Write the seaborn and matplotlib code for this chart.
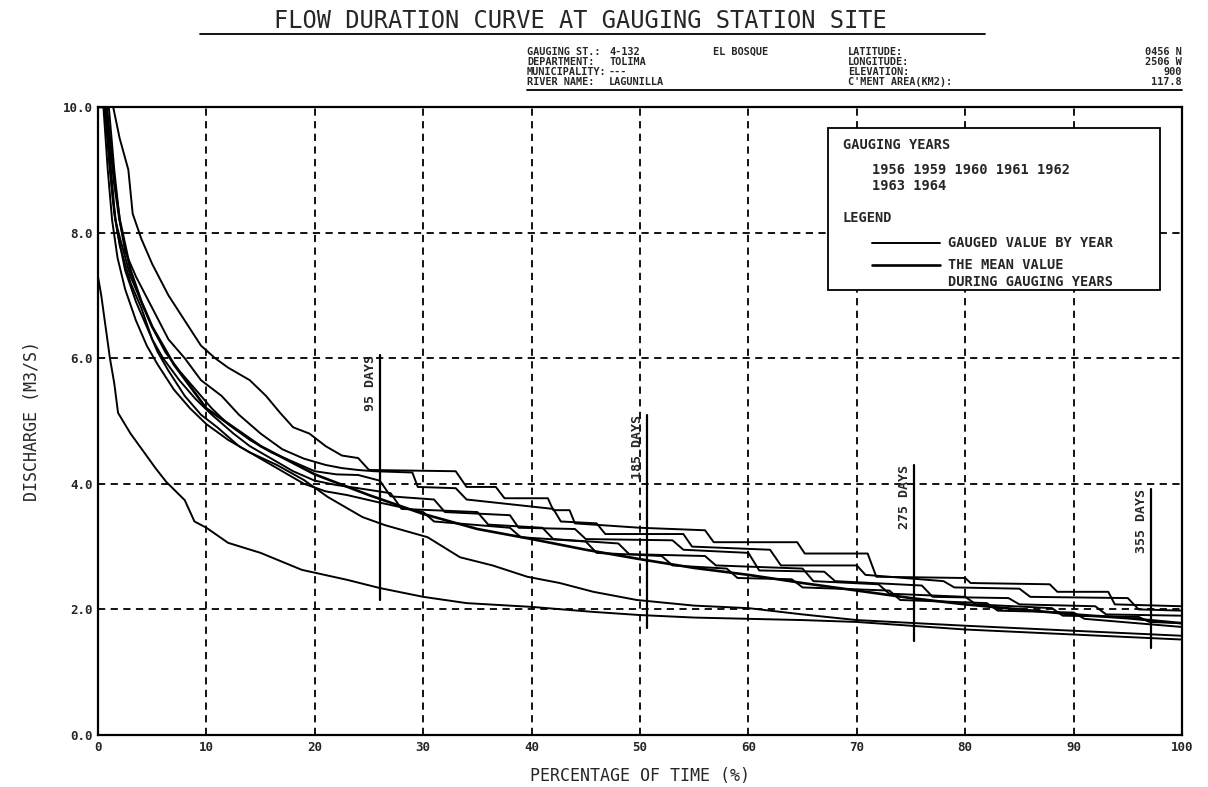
import matplotlib
matplotlib.use("Agg")
import matplotlib.pyplot as plt
import seaborn as sns
from matplotlib.patches import Rectangle

# ---------------- data (percentage of time, discharge m3/s) ----------------
y1_x = [0, 1.4, 2.0, 2.8, 3.2, 4.0, 5.0, 6.5, 8, 9.5, 10.8, 12, 14, 15.5, 16.8, 18, 19.5, 21, 22.5, 24, 25, 33, 34, 36.7, 37.5, 41.5, 42, 43.5, 44, 50, 56, 56.8, 64.5, 65.2, 71, 71.8, 80, 80.5, 87.8, 88.5, 93.2, 93.8, 100]
y1_y = [10, 10, 9.5, 9.0, 8.3, 7.9, 7.5, 7.0, 6.6, 6.2, 6.0, 5.85, 5.65, 5.4, 5.13, 4.9, 4.8, 4.6, 4.45, 4.41, 4.22, 4.2, 3.95, 3.95, 3.77, 3.77, 3.58, 3.58, 3.37, 3.3, 3.26, 3.07, 3.07, 2.89, 2.89, 2.52, 2.5, 2.42, 2.4, 2.28, 2.28, 2.08, 2.05]

y2_x = [0, 1.0, 1.5, 2.0, 2.5, 3.5, 5, 6.5, 8, 9.5, 11.4, 13, 15, 17, 19, 21, 22.5, 24, 25.5, 29, 29.5, 33, 34, 42, 42.7, 46, 46.8, 54, 54.8, 62, 63, 70, 70.8, 78, 79, 85, 86, 95, 96, 100]
y2_y = [10, 10, 9.0, 8.2, 7.7, 7.3, 6.8, 6.3, 6.0, 5.65, 5.4, 5.1, 4.8, 4.55, 4.4, 4.3, 4.25, 4.22, 4.2, 4.18, 3.95, 3.93, 3.75, 3.6, 3.4, 3.37, 3.2, 3.2, 3.0, 2.95, 2.7, 2.7, 2.55, 2.45, 2.35, 2.33, 2.2, 2.18, 2.0, 1.98]

y3_x = [0, 0.8, 1.2, 1.6, 2.2, 3, 4, 5, 6.2, 7.5, 9, 10.5, 12, 14, 16, 18, 20, 22, 24, 26, 27, 31, 32, 38, 38.8, 44, 45, 53, 54, 60, 61, 67, 68, 76, 77, 84, 85, 92, 93, 100]
y3_y = [10, 10, 9.0, 8.2, 7.8, 7.3, 6.9, 6.5, 6.1, 5.8, 5.5, 5.2, 4.95, 4.7, 4.5, 4.35, 4.2, 4.15, 4.14, 4.05, 3.8, 3.75, 3.55, 3.5, 3.3, 3.28, 3.12, 3.1, 2.95, 2.9, 2.62, 2.6, 2.45, 2.38, 2.2, 2.18, 2.08, 2.05, 1.92, 1.9]

y4_x = [0, 0.7, 1.1, 1.5, 2, 3, 4, 5, 6, 7.5, 9, 10.5, 12.5, 14, 16, 18, 20, 22, 24, 27, 28, 35, 36, 41, 42, 48, 49, 56, 57, 65, 66, 72, 73, 80, 81, 88, 89, 96, 97, 100]
y4_y = [10, 10, 9.0, 8.3, 7.8, 7.2, 6.8, 6.3, 6.0, 5.65, 5.35, 5.1, 4.8, 4.6, 4.4, 4.2, 4.05, 3.98, 3.93, 3.85, 3.6, 3.55, 3.35, 3.3, 3.12, 3.05, 2.88, 2.85, 2.7, 2.65, 2.45, 2.4, 2.25, 2.2, 2.08, 2.02, 1.9, 1.88, 1.8, 1.78]

y5_x = [0, 0.6, 1.0, 1.4, 1.8, 2.5, 3.5, 4.5, 5.5, 6.5, 8, 9.5, 11, 13, 15, 17, 19, 21, 23, 26, 30, 31, 38, 39, 45, 46, 52, 53, 58, 59, 64, 65, 73, 74, 82, 83, 90, 91, 100]
y5_y = [10, 10, 9.2, 8.5, 8.0, 7.4, 6.9, 6.5, 6.1, 5.8, 5.4, 5.1, 4.9, 4.6, 4.4, 4.2, 4.0, 3.88, 3.82, 3.7, 3.55, 3.4, 3.3, 3.15, 3.08, 2.9, 2.85, 2.7, 2.65, 2.5, 2.48, 2.35, 2.3, 2.15, 2.1, 1.98, 1.95, 1.85, 1.72]

y6_x = [0, 0.5, 0.9, 1.3, 1.8, 2.5, 3.5, 4.5, 5.5, 7, 8.5, 10, 12, 14, 16.5, 19, 21.2, 24.4, 26.5, 30.4, 33.4, 36.4, 39.6, 42.6, 45.7, 49.7, 55, 60, 65, 70, 80, 90, 100]
y6_y = [10, 10, 9.0, 8.2, 7.6, 7.1, 6.6, 6.2, 5.9, 5.5, 5.2, 4.95, 4.7, 4.5, 4.3, 4.06, 3.79, 3.47, 3.34, 3.15, 2.83, 2.7, 2.52, 2.42, 2.28, 2.15, 2.06, 2.02, 1.92, 1.83, 1.74, 1.66, 1.58]

y7_x = [0, 0.3, 0.7, 1.1, 1.5, 1.85, 3.0, 4.3, 5.3, 6.3, 8, 8.9, 10, 12, 15, 18.8, 23, 26, 30, 34, 40, 45.7, 50, 55, 60, 65, 70, 80, 90, 100]
y7_y = [7.3, 7.0, 6.5, 6.0, 5.6, 5.13, 4.8, 4.49, 4.25, 4.03, 3.74, 3.4, 3.3, 3.06, 2.9, 2.63, 2.47, 2.34, 2.2, 2.1, 2.04, 1.96, 1.91, 1.87, 1.85, 1.83, 1.8, 1.68, 1.6, 1.52]

mean_x = [0, 0.8, 1.5, 2, 3, 4, 5, 7, 10, 15, 20, 25, 30, 35, 40, 45, 50, 55, 60, 65, 70, 75, 80, 85, 90, 95, 100]
mean_y = [10, 10, 8.8, 8.2, 7.4, 6.9, 6.5, 5.9, 5.2, 4.6, 4.15, 3.82, 3.52, 3.28, 3.12, 2.95, 2.8, 2.66, 2.55, 2.42, 2.3, 2.18, 2.08, 2.0, 1.92, 1.86, 1.78]

day_labels = ["95 DAYS", "185 DAYS", "275 DAYS", "355 DAYS"]
day_x = [26.0, 50.6, 75.3, 97.1]
day_top = [6.05, 5.1, 4.3, 3.92]
day_bottom = [2.15, 1.7, 1.5, 1.38]

x_ticks = [0, 10, 20, 30, 40, 50, 60, 70, 80, 90, 100]
y_ticks = [0.0, 2.0, 4.0, 6.0, 8.0, 10.0]
gauging_years = ["1956", "1959", "1960", "1961", "1962", "1963", "1964"]

hdr_left_keys = ["GAUGING ST.:", "DEPARTMENT:", "MUNICIPALITY:", "RIVER NAME:"]
hdr_left_vals = ["4-132", "TOLIMA", "---", "LAGUNILLA"]
hdr_right_keys = ["LATITUDE:", "LONGITUDE:", "ELEVATION:", "C'MENT AREA(KM2):"]
hdr_right_vals = ["0456 N", "2506 W", "900", "117.8"]

# ---------------- figure ----------------
sns.set_theme(style="white")
FONT = ["DejaVu Sans Mono", "DejaVu Sans"]
plt.rcParams["font.family"] = FONT
plt.rcParams["font.weight"] = "bold"

W, H = 1208, 787
fig = plt.figure(figsize=(W / 100, H / 100), dpi=100)
fig.patch.set_facecolor("white")
ax = fig.add_axes([98 / W, 1 - 735 / H, (1182 - 98) / W, (735 - 107) / H])

year_curves = [(y1_x, y1_y), (y2_x, y2_y), (y3_x, y3_y), (y4_x, y4_y),
               (y5_x, y5_y), (y6_x, y6_y), (y7_x, y7_y)]
for xs, ys in year_curves:
    sns.lineplot(x=xs, y=ys, ax=ax, color="black", lw=1.4, sort=False, estimator=None)
sns.lineplot(x=mean_x, y=mean_y, ax=ax, color="black", lw=1.9, sort=False, estimator=None)

# day marker lines
for lab, xv, yt, yb in zip(day_labels, day_x, day_top, day_bottom):
    ax.plot([xv, xv], [yb, yt], color="black", lw=1.6)
    ax.annotate(lab, xy=(xv, yt), xytext=(-2, 0), textcoords="offset points",
                rotation=90, ha="right", va="top", fontsize=9.5, fontweight="bold")

ax.set_xlim(0, 100)
ax.set_ylim(0, 10)
ax.set_xticks(x_ticks)
ax.set_xticklabels([str(t) for t in x_ticks])
ax.set_yticks(y_ticks)
ax.set_yticklabels(["%.1f" % t for t in y_ticks])
ax.tick_params(axis="both", labelsize=9, length=0, pad=4)
for lbl in ax.get_xticklabels() + ax.get_yticklabels():
    lbl.set_fontweight("bold")
ax.grid(True, color="black", linestyle=(0, (4, 3)), lw=1.3)
for s in ax.spines.values():
    s.set_color("black")
    s.set_linewidth(1.6)
ax.set_xlabel("PERCENTAGE OF TIME (%)", fontsize=12, labelpad=10)
ax.set_ylabel("DISCHARGE (M3/S)", fontsize=12)
ax.yaxis.set_label_coords(-0.053, 0.5)

# legend box
box = Rectangle((828 / W, 1 - 290 / H), (1160 - 828) / W, (290 - 128) / H,
                transform=fig.transFigure, facecolor="white", edgecolor="black", lw=1.3, zorder=5)
fig.add_artist(box)


def ftxt(px, py, s, **kw):
    kw.setdefault("fontsize", 9.8)
    kw.setdefault("fontweight", "bold")
    kw.setdefault("va", "center")
    fig.text(px / W, 1 - py / H, s, zorder=6, **kw)


ftxt(843, 145, "GAUGING YEARS")
ftxt(872, 170, " ".join(gauging_years[:5]))
ftxt(872, 186, " ".join(gauging_years[5:]))
ftxt(843, 218, "LEGEND")
fig.add_artist(plt.Line2D([872 / W, 940 / W], [1 - 243 / H] * 2, transform=fig.transFigure,
                          color="black", lw=1.4, zorder=6))
ftxt(948, 243, "GAUGED VALUE BY YEAR")
fig.add_artist(plt.Line2D([872 / W, 940 / W], [1 - 265 / H] * 2, transform=fig.transFigure,
                          color="black", lw=1.9, zorder=6))
ftxt(948, 265, "THE MEAN VALUE")
ftxt(948, 282, "DURING GAUGING YEARS")

# title and header
ftxt(580, 21, "FLOW DURATION CURVE AT GAUGING STATION SITE", fontsize=17, ha="center",
     fontweight="normal")
fig.add_artist(plt.Line2D([200 / W, 985 / W], [1 - 34 / H] * 2, transform=fig.transFigure,
                          color="black", lw=1.3))
hdr_rows = [52, 62, 72, 82]
HS = 7.4
for py, a, b in zip(hdr_rows, hdr_left_keys, hdr_left_vals):
    ftxt(527, py, a, fontsize=HS)
    ftxt(609, py, b, fontsize=HS)
ftxt(713, 52, "EL BOSQUE", fontsize=HS)
for py, a, b in zip(hdr_rows, hdr_right_keys, hdr_right_vals):
    ftxt(848, py, a, fontsize=HS)
    ftxt(1182, py, b, fontsize=HS, ha="right")
fig.add_artist(plt.Line2D([527 / W, 1182 / W], [1 - 90 / H] * 2, transform=fig.transFigure,
                          color="black", lw=1.3))

fig.savefig("out.png", dpi=100, facecolor="white")
